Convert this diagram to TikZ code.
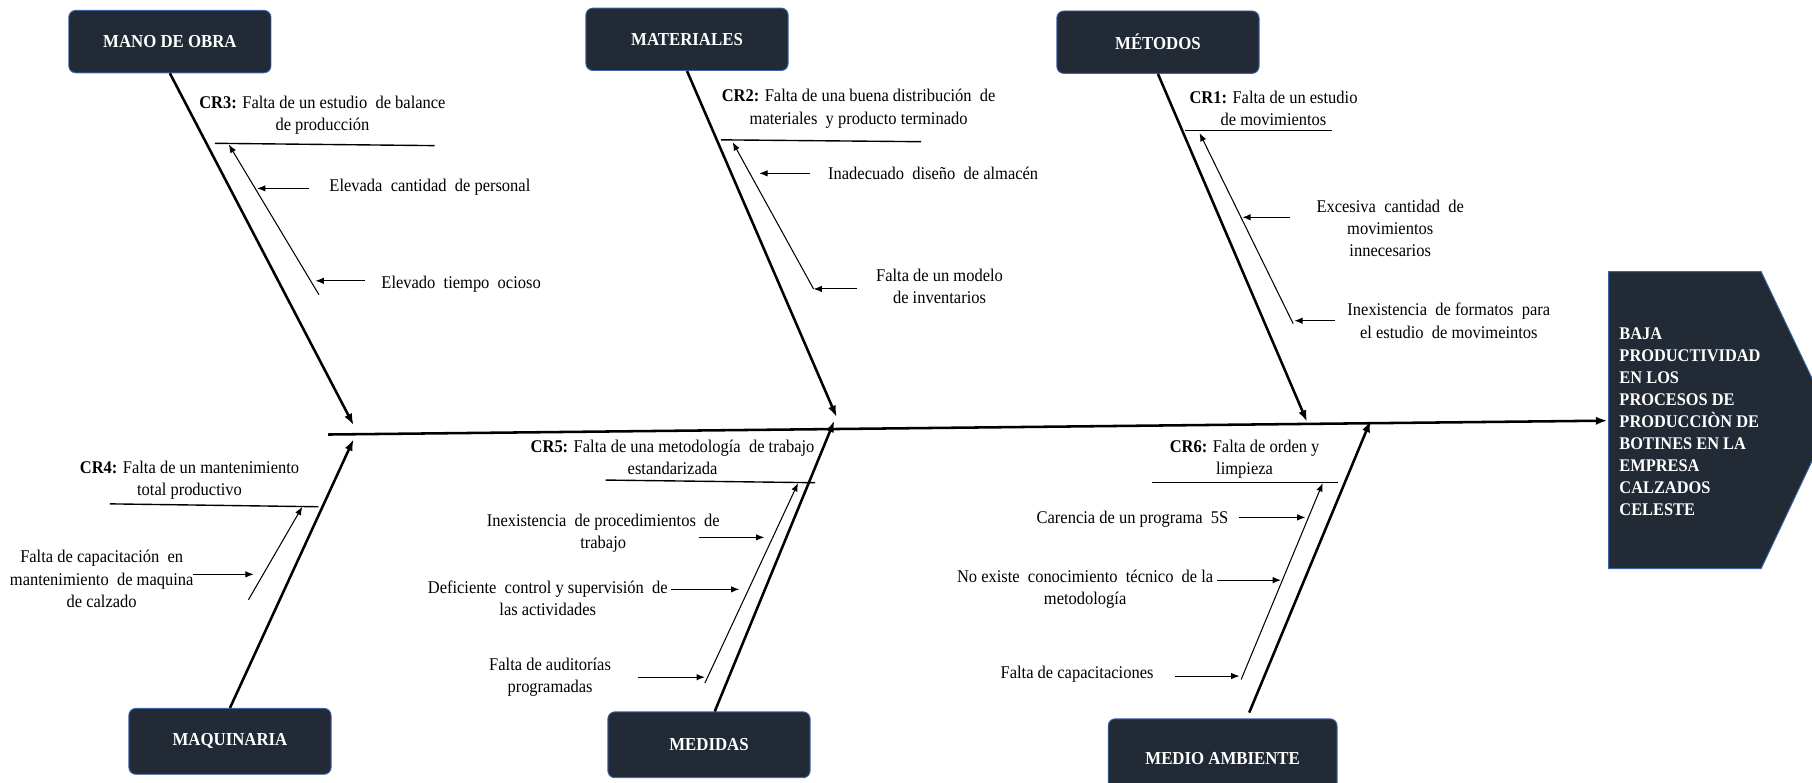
\documentclass[tikz,border=0pt]{standalone}
\usepackage{fontspec}
\setmainfont{Liberation Serif}[FakeStretch=0.92]
\usepackage{tikz}
\usetikzlibrary{arrows.meta}
\definecolor{boxfill}{HTML}{222A35}
\definecolor{boxline}{HTML}{3E64A8}

\begin{document}
\begin{tikzpicture}[x=0.5pt,y=-0.5pt,>={Latex[length=5pt,width=3.6pt]},
    cat/.style={draw=boxline,fill=boxfill,rounded corners=3pt,text=white,
      font=\bfseries\fontsize{7.9}{9.5}\selectfont,minimum width=87.5pt,minimum height=27pt},
    txt/.style={font=\fontsize{7.75}{9.6}\selectfont,inner sep=0pt,align=center},
    bone/.style={line width=1.1pt,->},
    sub/.style={line width=0.45pt,-{Latex[length=3.6pt,width=2.8pt]}},
    crl/.style={line width=0.6pt}]
\useasboundingbox (0,0) rectangle (1568,677);

% categorias
\foreach \n/\x/\y/\t in {mo/147/36/MANO DE OBRA,mat/594.5/34/MATERIALES,met/1002/36.5/MÉTODOS}{
  \node[cat] (\n) at (\x,\y) {\t};
}
\node[cat,minimum height=28.5pt] (maq) at (199,641.5) {MAQUINARIA};
\node[cat,minimum height=28.5pt] (med) at (613.5,644.5) {MEDIDAS};
\node[cat,minimum width=99pt,minimum height=34pt] (ma) at (1058,656) {MEDIO AMBIENTE};

% efecto
\draw[draw=boxline,fill=boxfill] (1392,235) -- (1524,235) -- (1585,363) -- (1524,492) -- (1392,492) -- cycle;
\node[anchor=west,inner sep=0pt,align=left,text=white,font=\bfseries\fontsize{7.7}{9.55}\selectfont] (ef) at (1401,365)
  {BAJA\\PRODUCTIVIDAD\\EN LOS\\PROCESOS DE\\PRODUCCIÒN DE\\BOTINES EN LA\\EMPRESA\\CALZADOS\\CELESTE};

% espina
\coordinate (cola) at (284,376);
\coordinate (cabeza) at (1391,364);
\draw[line width=1.1pt,->] (cola) -- (cabeza);

\coordinate (e1) at (306,368); \coordinate (e2) at (724,361); \coordinate (e3) at (1131,365);
\coordinate (e4) at (306,380); \coordinate (e5) at (722,364); \coordinate (e6) at (1186,364);
\draw[bone] (mo.south) -- (e1);
\draw[bone] (mat.south) -- (e2);
\draw[bone] (met.south) -- (e3);
\draw[bone] (maq.north) -- (e4);
\draw[bone] ([xshift=2.5pt]med.north) -- (e5);
\draw[bone] ([xshift=11.5pt,yshift=2.5pt]ma.north) -- (e6);

% CR3
\node[txt] (cr3) at (279,100) {\textbf{CR3:} Falta de un estudio\ \ de balance\\de producción};
\coordinate (l3a) at (186,124); \coordinate (l3b) at (376,126);
\draw[crl] (l3a) -- (l3b);
\coordinate (s3a) at (276,255); \coordinate (s3b) at (198,125);
\draw[sub] (s3a) -- (s3b);
\node[txt] (c31) at (372,162) {Elevada\ \ cantidad\ \ de personal};
\node[txt] (c32) at (399,246) {Elevado\ \ tiempo\ \ ocioso};
\coordinate (p31) at (222.5,163); \coordinate (p32) at (273,243);
\draw[sub] ([xshift=-8.8pt]p31 -| c31.west) -- (p31);
\draw[sub] ([xshift=-7pt]p32 -| c32.west) -- (p32);

% CR2
\node[txt] (cr2) at (743,94) {\textbf{CR2:} Falta de una buena distribución\ \ de\\materiales\ \ y producto terminado};
\coordinate (l2a) at (624,121); \coordinate (l2b) at (797,122.6);
\draw[crl] (l2a) -- (l2b);
\coordinate (s2a) at (704,250); \coordinate (s2b) at (634,123);
\draw[sub] (s2a) -- (s2b);
\node[txt] (c21) at (807.5,150) {Inadecuado\ \ diseño\ \ de almacén};
\node[txt] (c22) at (813,248) {Falta de un modelo\\de inventarios};
\coordinate (p21) at (657,150); \coordinate (p22) at (704,250);
\draw[sub] ([xshift=-7.8pt]p21 -| c21.west) -- (p21);
\draw[sub] ([xshift=-8pt]p22 -| c22.west) -- (p22);

% CR1
\node[txt] (cr1) at (1102,93.5) {\textbf{CR1:} Falta de un estudio\\de movimientos};
\coordinate (l1a) at (1025,113); \coordinate (l1b) at (1153,113);
\draw[crl] (l1a) -- (l1b);
\coordinate (s1a) at (1119,280); \coordinate (s1b) at (1038,115);
\draw[sub] (s1a) -- (s1b);
\node[txt] (c11) at (1203,197.5) {Excesiva\ \ cantidad\ \ de\\movimientos\\innecesarios};
\node[txt] (c12) at (1253.7,277.5) {Inexistencia\ \ de formatos\ \ para\\el estudio\ \ de movimeintos};
\coordinate (p11) at (1075,188); \coordinate (p12) at (1120,277.5);
\draw[sub] ([xshift=-11.5pt]p11 -| c11.west) -- (p11);
\draw[sub] ([xshift=-5pt]p12 -| c12.west) -- (p12);

% CR4
\node[txt] (cr4) at (164,415.5) {\textbf{CR4:} Falta de un mantenimiento\\total productivo};
\coordinate (l4a) at (95,436); \coordinate (l4b) at (275.5,438.5);
\draw[crl] (l4a) -- (l4b);
\coordinate (s4a) at (215,519); \coordinate (s4b) at (261.6,438.5);
\draw[sub] (s4a) -- (s4b);
\node[txt] (c41) at (88,501) {Falta de capacitación\ \ en\\mantenimiento\ \ de maquina\\de calzado};
\coordinate (p41) at (219.6,497);
\draw[sub] ([xshift=-0.5pt]p41 -| c41.east) -- (p41);

% CR5
\node[txt] (cr5) at (582,395.5) {\textbf{CR5:} Falta de una metodología\ \ de trabajo\\estandarizada};
\coordinate (l5a) at (524,415.4); \coordinate (l5b) at (705.4,417.7);
\draw[crl] (l5a) -- (l5b);
\coordinate (s5a) at (610,591); \coordinate (s5b) at (690.6,418);
\draw[sub] (s5a) -- (s5b);
\node[txt] (c51) at (522,461.5) {Inexistencia\ \ de procedimientos\ \ de\\trabajo};
\node[txt] (c52) at (474,517.5) {Deficiente\ \ control y supervisión\ \ de\\las actividades};
\node[txt] (c53) at (476,586) {Falta de auditorías\\programadas};
\coordinate (p51) at (661.4,465); \coordinate (p52) at (639.8,510); \coordinate (p53) at (610,586);
\draw[sub] ([xshift=-9.3pt]p51 -| c51.east) -- (p51);
\draw[sub] ([xshift=1.3pt]p52 -| c52.east) -- (p52);
\draw[sub] ([xshift=11.4pt]p53 -| c53.east) -- (p53);

% CR6
\node[txt] (cr6) at (1077,397) {\textbf{CR6:} Falta de orden y\\limpieza};
\coordinate (l6a) at (997,417.7); \coordinate (l6b) at (1157.6,417.7);
\draw[crl] (l6a) -- (l6b);
\coordinate (s6a) at (1074,588); \coordinate (s6b) at (1144.6,418);
\draw[sub] (s6a) -- (s6b);
\node[txt] (c61) at (980,449) {Carencia de un programa\ \ 5S};
\node[txt] (c62) at (939,509.5) {No existe\ \ conocimiento\ \ técnico\ \ de la\\metodología};
\node[txt] (c63) at (932,583) {Falta de capacitaciones};
\coordinate (p61) at (1129.7,447.7); \coordinate (p62) at (1108.5,502); \coordinate (p63) at (1072.6,585);
\draw[sub] ([xshift=4.5pt]p61 -| c61.east) -- (p61);
\draw[sub] ([xshift=1.5pt]p62 -| c62.east) -- (p62);
\draw[sub] ([xshift=9pt]p63 -| c63.east) -- (p63);
\end{tikzpicture}
\end{document}
